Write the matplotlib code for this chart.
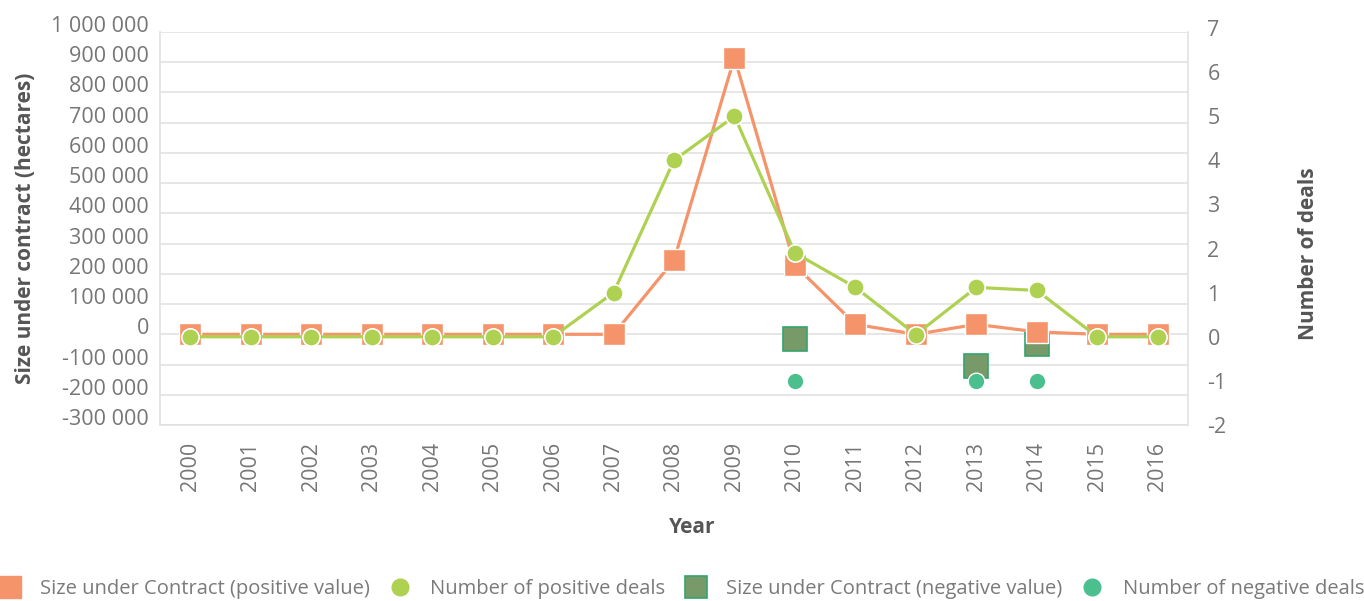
import numpy as np
import matplotlib
matplotlib.use("Agg")
import matplotlib.pyplot as plt
import matplotlib.transforms as mtransforms
from matplotlib.lines import Line2D

plt.rcParams['font.family'] = ['Open Sans', 'DejaVu Sans']

years = [str(y) for y in range(2000, 2017)]
# hectares, left axis
size_pos = [0, 0, 0, 0, 0, 0, 0, 0, 245000, 915000, 228000, 33000, 0, 33000, 8000, 0, 0]
size_neg_years = ['2010', '2013', '2014']
size_neg = [-17000, -106000, -33000]
# number of deals, right axis
deals_pos = [0, 0, 0, 0, 0, 0, 0, 1, 4, 5, 1.9, 1.12, 0.05, 1.12, 1.05, 0, 0]
deals_neg_years = ['2010', '2013', '2014']
deals_neg = [-1, -1, -1]

c_orange = '#F5936A'
c_lime = '#AFD152'
c_dark = '#789A68'
c_dark_edge = '#33A46F'
c_teal = '#4CBF8F'
grid_c = '#E2E2E2'
tick_c = '#767676'
title_c = '#555555'

x = np.arange(len(years))
xn = [years.index(y) for y in size_neg_years]
xd = [years.index(y) for y in deals_neg_years]

fig = plt.figure(figsize=(13.64, 6.01), dpi=100)
L, R = 160/1364, 1188/1364
ax = fig.add_axes([L, 1-425/601, R-L, (425-32)/601])
# the deals axis runs a touch higher than the grid box (7 sits above the top line)
ax2 = fig.add_axes([L, 1-425/601, R-L, (425-28)/601], sharex=ax)
ax2.patch.set_visible(False)
for s in ax2.spines.values():
    s.set_visible(False)
ax2.yaxis.tick_right()
ax2.xaxis.set_visible(False)

ax.set_ylim(-300000, 1000000)
ax.set_yticks(np.arange(-300000, 1000001, 100000))
ax.set_yticklabels(['{:,}'.format(v).replace(',', ' ') for v in range(-300000, 1000001, 100000)])
ax.set_xlim(-0.5, len(years) - 0.5)
ax.set_xticks(x)
ax.set_xticklabels(years, rotation=90)
ax.grid(axis='y', color=grid_c, lw=1.2, zorder=0)
ax.set_axisbelow(True)
for s in ax.spines.values():
    s.set_color(grid_c)
    s.set_linewidth(1.2)
ax.spines['top'].set_visible(False)

ax2.set_ylim(-2, 7)
ax2.set_yticks(range(-2, 8))
ax2.set_yticklabels([str(v) for v in range(-2, 8)])

for a in (ax, ax2):
    a.tick_params(length=0, labelsize=15.5, labelcolor=tick_c)
ax.tick_params(axis='y', pad=8)
ax.tick_params(axis='x', pad=12)
ax2.tick_params(axis='y', pad=14)

# left tick labels sit a little above their gridlines
off = mtransforms.ScaledTranslation(0, 8/100, fig.dpi_scale_trans)
for lab in ax.get_yticklabels():
    lab.set_transform(lab.get_transform() + off)

ax.plot(xn, size_neg, ls='none', marker='s', ms=17, mfc=c_dark, mec=c_dark_edge, mew=1.2, zorder=3)
ax.plot(x, size_pos, color=c_orange, lw=2.3, marker='s', ms=16, mfc=c_orange, mec='white', mew=1, zorder=4)

ax2.plot(xd, deals_neg, ls='none', marker='o', ms=12, mfc=c_teal, mec='white', mew=1, zorder=3)
ax2.plot(x, deals_pos, color=c_lime, lw=2.3, marker='o', ms=12.5, mfc=c_lime, mec='white', mew=1.2, zorder=4)

ax.set_ylabel('Size under contract (hectares)', fontsize=15, fontweight='bold', color=title_c)
ax2.set_ylabel('Number of deals', fontsize=15, fontweight='bold', color=title_c)
ax2.yaxis.set_label_position('right')
ax.set_xlabel('Year', fontsize=15, fontweight='bold', color=title_c)
ax.xaxis.set_label_coords((692-160)/1028, -(517-425)/393)
ax.yaxis.set_label_coords((36-160)/1028, 0.5)
ax2.yaxis.set_label_coords(1 + 110/1028, (425-254)/397)

handles = [
    Line2D([], [], ls='none', marker='s', ms=16, mfc=c_orange, mec=c_orange),
    Line2D([], [], ls='none', marker='o', ms=12, mfc=c_lime, mec=c_lime),
    Line2D([], [], ls='none', marker='s', ms=16, mfc=c_dark, mec=c_dark_edge, mew=1.2),
    Line2D([], [], ls='none', marker='o', ms=12, mfc=c_teal, mec=c_teal),
]
labels = ['Size under Contract (positive value)', 'Number of positive deals',
          'Size under Contract (negative value)', 'Number of negative deals']
leg = fig.legend(handles, labels, loc='center', bbox_to_anchor=(0.5, 1-589/601), ncol=4,
                 frameon=False, fontsize=14.5, labelcolor='#7a7a7a', handlelength=1,
                 handletextpad=1.0, columnspacing=1.0, borderpad=0, borderaxespad=0)

fig.savefig('out.png', dpi=100)
